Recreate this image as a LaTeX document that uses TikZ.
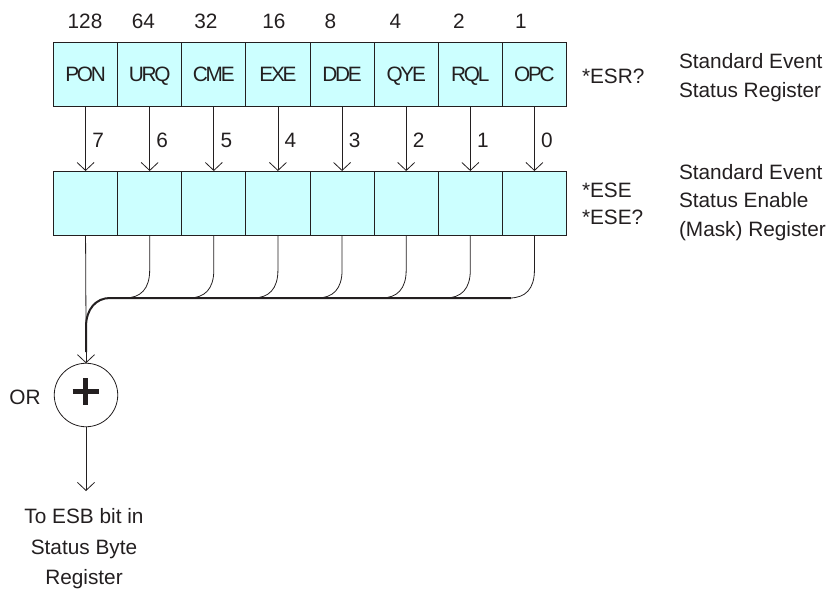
\documentclass[tikz,border=0pt]{standalone}
\usepackage{fontspec}
\setmainfont{Liberation Sans}
\newfontfamily\tightfont[LetterSpace=-11]{Liberation Sans}
\usetikzlibrary{arrows.meta}
\definecolor{cellfill}{HTML}{CCFFFF}
\definecolor{ink}{HTML}{231F20}
\begin{document}
\begin{tikzpicture}[x=1pt,y=-1pt,
  txt/.style={inner sep=0pt,outer sep=0pt,text height=14.9pt,text depth=0pt,text=ink,font=\fontsize{20.8}{25}\selectfont},
  cell/.style={draw=ink,line width=1pt,fill=cellfill,minimum width=64.125pt,inner sep=0pt,outer sep=0pt,text height=14.9pt,text depth=0pt,text=ink,font=\fontsize{20.8}{25}\selectfont\tightfont},
  wire/.style={draw=ink,line width=0.8pt},
  bus/.style={draw=ink,line width=2pt},
  tip/.tip={Straight Barb[length=8pt,width=17pt,line width=0.8pt]},
  plus/.style={draw=ink,line width=5pt}]
\useasboundingbox (0,0) rectangle (828,589);
% registers
\foreach \lab [count=\i from 0] in {PON,URQ,CME,EXE,DDE,QYE,RQL,OPC}{
  \pgfmathsetmacro{\cx}{85.56+64.125*\i}
  \node[cell,minimum height=64.4pt] (t\i) at (\cx,74.5) {\lab};
  \node[cell,minimum height=64pt] (b\i) at (\cx,203) {};
}
% weights
\foreach \w/\wx [count=\i from 0] in {128/85,64/143.5,32/206,16/274,8/330.5,4/395.5,2/459,1/521}{
  \node[txt] (w\i) at (\wx,20.8) {\w};
}
% bit arrows and bit numbers
\foreach \i in {0,...,7}{
  \pgfmathtruncatemacro{\bit}{7-\i}
  \pgfmathsetmacro{\cx}{85.56+64.125*\i}
  \draw[wire,-{tip}] (t\i.south) -- (b\i.north);
  \node[txt] (n\i) at (\cx+12.5,140) {\bit};
}
% drop lines into bus
\foreach \i in {1,...,7}{
  \pgfmathsetmacro{\cx}{85.56+64.125*\i}
  \draw[wire] (b\i.south) -- (\cx,270) .. controls (\cx,289) and (\cx-9,298) .. (\cx-25,298);
}
% OR gate
\node[circle,draw=ink,line width=0.8pt,minimum size=63.5pt,inner sep=0pt,outer sep=0pt] (or) at (86,395) {};
\draw[plus] (72.5,391.5) -- (98.5,391.5) (85.5,378) -- (85.5,405);
\node[txt] (orlab) at (25,397) {OR};
\coordinate (busR) at (511,298);
\coordinate (busJ) at (86,327);
\draw[wire] (b0.south) -- (busJ);
\draw[bus] (busR) -- (110,298) .. controls (96,298) and (86,309) .. (busJ) -- (86,352);
\draw[wire,-{tip}] (86,350) -- (or.north);
\coordinate (outEnd) at (86,491);
\draw[wire,-{tip}] (or.south) -- (outEnd);
\node[txt] (o1) at (84,516) {To ESB bit in};
\node[txt] (o2) at (84,547) {Status Byte};
\node[txt] (o3) at (84,577) {Register};
% right-hand labels
\node[txt,anchor=west] (esr) at (582,76.5) {*ESR?};
\node[txt,anchor=west] (ese) at (582,190) {*ESE};
\node[txt,anchor=west] (eseq) at (582,217) {*ESE?};
\node[txt,anchor=west] (r1) at (679,61) {Standard Event};
\node[txt,anchor=west] (r2) at (679,90) {Status Register};
\node[txt,anchor=west] (r3) at (679,172) {Standard Event};
\node[txt,anchor=west] (r4) at (679,200.5) {Status Enable};
\node[txt,anchor=west] (r5) at (679,229) {(Mask) Register};
\end{tikzpicture}
\end{document}
